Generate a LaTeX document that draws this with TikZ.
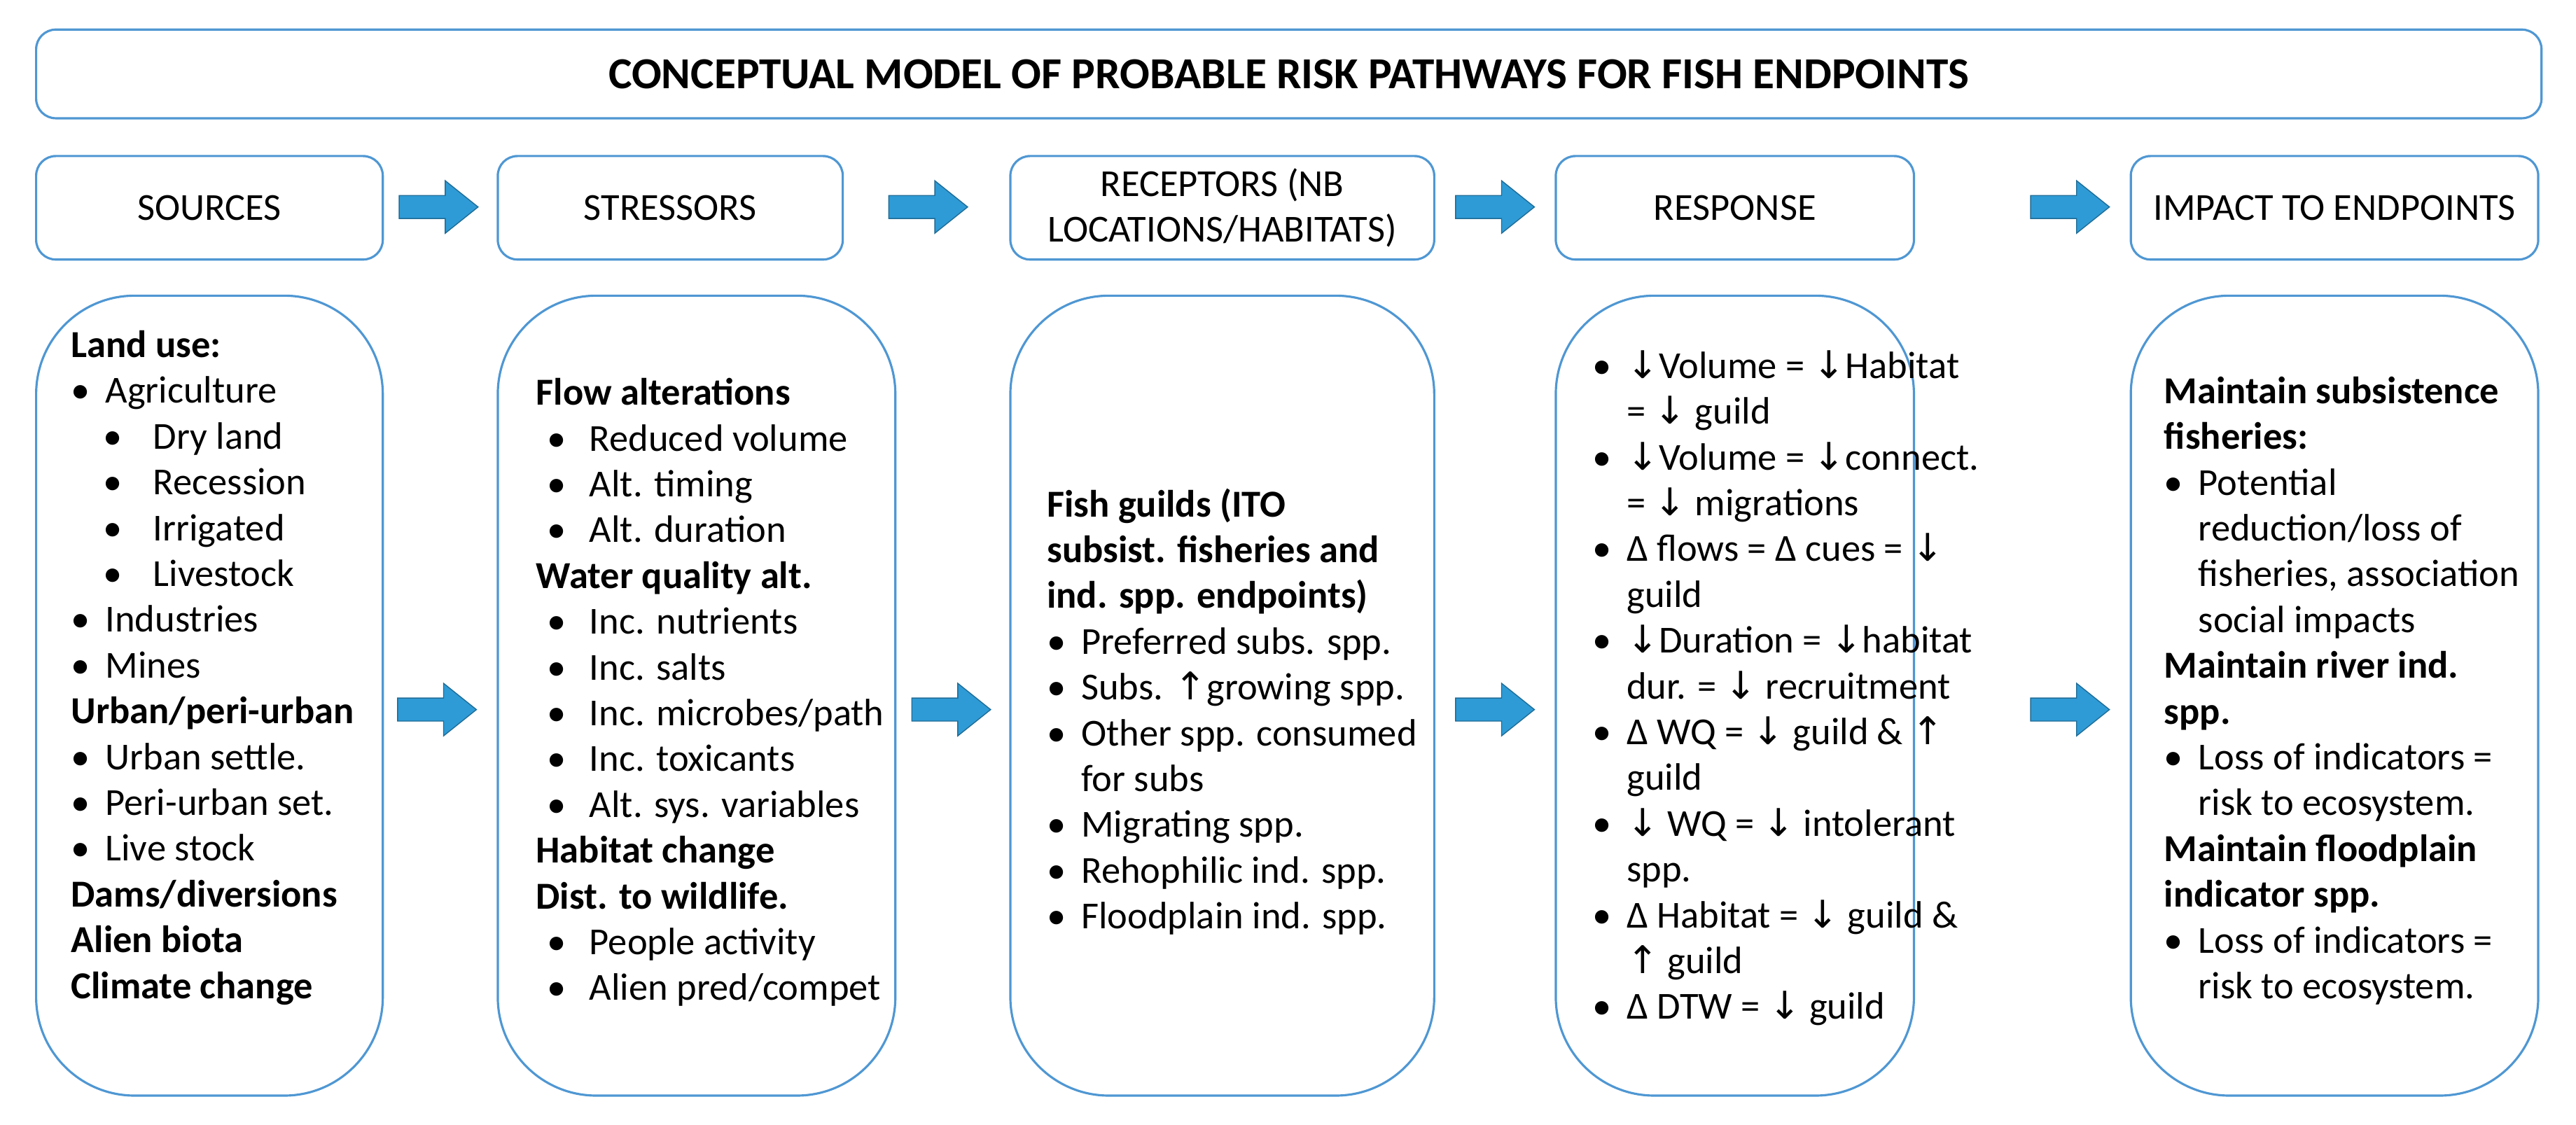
\documentclass[tikz,border=0pt]{standalone}
\usepackage{fontspec}
\setmainfont{Carlito}
\newfontfamily\arrf{DejaVu Sans}
\newcommand{\dn}{{\arrf ↓}}
\newcommand{\up}{{\arrf ↑}}
\newcommand{\bi}{\makebox[0.9em][l]{\textbullet}}
\newcommand{\bii}{\hspace{0.85em}\makebox[1.3em][l]{\textbullet}}
\newcommand{\biii}{\hspace{0.3em}\makebox[1.1em][l]{\textbullet}}
\newcommand{\ct}{\hspace{0.9em}}
\definecolor{bord}{HTML}{4F97D3}
\definecolor{arr}{HTML}{2E9BD6}
\newcommand{\blockarrow}[1]{\draw[fill=arr,draw=arr!70!black,line width=0.4pt,shift={(#1)}] (-24,-7)--(4,-7)--(4,-16)--(24,0)--(4,16)--(4,7)--(-24,7)--cycle;}
\begin{document}
\begin{tikzpicture}[x=0.02346cm,y=-0.02346cm,
 box/.style={draw=bord,line width=0.9pt,rounded corners=8pt},
 body/.style={draw=bord,line width=0.9pt,rounded corners=40pt},
 txt/.style={anchor=north west,inner sep=0,align=left,font=\fontsize{15.5}{18.6}\selectfont},
 htxt/.style={font=\fontsize{15.5}{18.6}\selectfont,align=center}]
\useasboundingbox (0,0) rectangle (1568,684.5);
\draw[box] (22,18) rectangle (1547,72);
\node[htxt,font=\fontsize{18}{20}\selectfont\bfseries] (title) at (784.5,45) {CONCEPTUAL MODEL OF PROBABLE RISK PATHWAYS FOR FISH ENDPOINTS};
% headers
\draw[box] (22,95) rectangle (233,158); \node[htxt] (h1) at (127.5,126.5) {SOURCES};
\draw[box] (303,95) rectangle (513,158); \node[htxt] (h2) at (408,126.5) {STRESSORS};
\draw[box] (615,95) rectangle (873,158); \node[htxt] (h3) at (744,126.5) {RECEPTORS (NB\\LOCATIONS/HABITATS)};
\draw[box] (947,95) rectangle (1165,158); \node[htxt] (h4) at (1056,126.5) {RESPONSE};
\draw[box] (1297,95) rectangle (1545,158); \node[htxt] (h5) at (1421,126.5) {IMPACT TO ENDPOINTS};
\coordinate (a1) at (267,126); \coordinate (a2) at (565,126); \coordinate (a3) at (910,126); \coordinate (a4) at (1260,126);
\blockarrow{a1}\blockarrow{a2}\blockarrow{a3}\blockarrow{a4}
% bodies
\draw[body] (22,180) rectangle (233,667);
\draw[body] (303,180) rectangle (545,667);
\draw[body] (615,180) rectangle (873,667);
\draw[body] (947,180) rectangle (1165,667);
\draw[body] (1297,180) rectangle (1545,667);
\coordinate (b1) at (266,432); \coordinate (b2) at (579,432); \coordinate (b3) at (910,432); \coordinate (b4) at (1260,432);
\blockarrow{b1}\blockarrow{b2}\blockarrow{b3}\blockarrow{b4}
\node[txt] (t1) at (43,201) {\textbf{Land use:}\\\bi Agriculture\\\bii Dry land\\\bii Recession\\\bii Irrigated\\\bii Livestock\\\bi Industries\\\bi Mines\\\textbf{Urban/peri-urban}\\\bi Urban settle.\\\bi Peri-urban set.\\\bi Live stock\\\textbf{Dams/diversions}\\\textbf{Alien biota}\\\textbf{Climate change}};
\node[txt] (t2) at (326,230) {\textbf{Flow alterations}\\\biii Reduced volume\\\biii Alt. timing\\\biii Alt. duration\\\textbf{Water quality alt.}\\\biii Inc. nutrients\\\biii Inc. salts\\\biii Inc. microbes/path\\\biii Inc. toxicants\\\biii Alt. sys. variables\\\textbf{Habitat change}\\\textbf{Dist. to wildlife.}\\\biii People activity\\\biii Alien pred/compet};
\node[txt] (t3) at (637,297) {\textbf{Fish guilds (ITO}\\\textbf{subsist. fisheries and}\\\textbf{ind. spp. endpoints)}\\\bi Preferred subs. spp.\\\bi Subs. \up growing spp.\\\bi Other spp. consumed\\\ct for subs\\\bi Migrating spp.\\\bi Rehophilic ind. spp.\\\bi Floodplain ind. spp.};
\node[txt] (t4) at (969,213) {\bi \dn Volume = \dn Habitat\\\ct = \dn\ guild\\\bi \dn Volume = \dn connect.\\\ct = \dn\ migrations\\\bi Δ flows = Δ cues = \dn\\\ct guild\\\bi \dn Duration = \dn habitat\\\ct dur. = \dn\ recruitment\\\bi Δ WQ = \dn\ guild \& \up\\\ct guild\\\bi \dn\ WQ = \dn\ intolerant\\\ct spp.\\\bi Δ Habitat = \dn\ guild \&\\\ct \up\ guild\\\bi Δ DTW = \dn\ guild};
\node[txt] (t5) at (1317,229) {\textbf{Maintain subsistence}\\\textbf{fisheries:}\\\bi Potential\\\ct reduction/loss of\\\ct fisheries, association\\\ct social impacts\\\textbf{Maintain river ind.}\\\textbf{spp.}\\\bi Loss of indicators =\\\ct risk to ecosystem.\\\textbf{Maintain floodplain}\\\textbf{indicator spp.}\\\bi Loss of indicators =\\\ct risk to ecosystem.};
\end{tikzpicture}
\end{document}
